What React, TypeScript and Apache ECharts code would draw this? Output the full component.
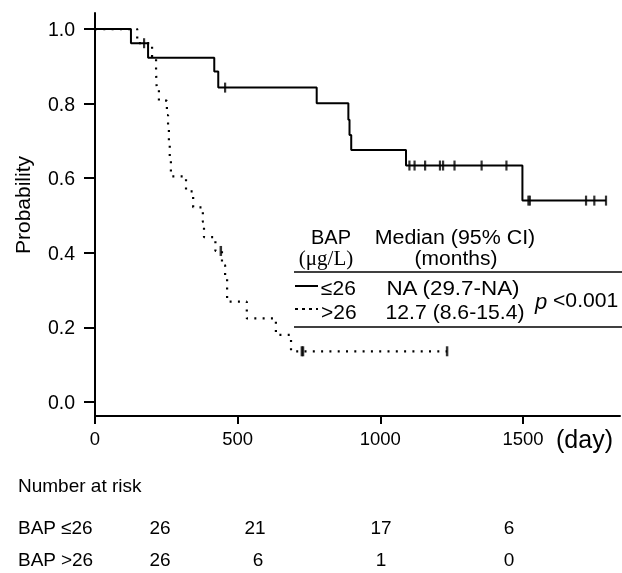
import React, { useEffect, useRef } from "react";
import * as echarts from "echarts";

// ---- data ----
const lowTimes = [0, 126, 186, 418, 432, 777, 888, 892, 898, 1090, 1498, 1791];
const lowSurv = [1.0, 0.962, 0.923, 0.886, 0.843, 0.801, 0.757, 0.716, 0.676, 0.634, 0.54, 0.54];
const lowCensor = [172, 456, 1102, 1120, 1157, 1209, 1220, 1260, 1355, 1442, 1519, 1524, 1721, 1750, 1791];

const highTimes = [0, 148, 200, 214, 216, 224, 252, 256, 259, 262, 266, 319, 344, 378, 382, 422, 445, 456, 463, 532, 634, 687, 1234];
const highSurv = [1.0, 0.962, 0.923, 0.885, 0.846, 0.808, 0.769, 0.731, 0.692, 0.654, 0.605, 0.565, 0.522, 0.483, 0.442, 0.405, 0.367, 0.33, 0.269, 0.224, 0.18, 0.136, 0.136];
const highCensor = [441, 725, 729, 1234];

const xTicks = [0, 500, 1000, 1500];
const yTicks = [0, 0.2, 0.4, 0.6, 0.8, 1.0];

const riskGroups = ["BAP \u226426", "BAP >26"];
const riskLow = [26, 21, 17, 6];
const riskHigh = [26, 6, 1, 0];

const legendHeader = ["BAP", "Median (95% CI)"];
const legendUnits = ["(\u03bcg/L)", "(months)"];
const legendGroups = ["\u226426", ">26"];
const legendMedians = ["NA (29.7-NA)", "12.7 (8.6-15.4)"];
const pValue = "<0.001";

const SANS = '"Liberation Sans", Arial, Helvetica, sans-serif';
const SERIF = '"Liberation Serif", "Times New Roman", serif';

function survAt(times: number[], surv: number[], t: number) {
  let s = surv[0];
  for (let i = 0; i < times.length; i++) if (times[i] <= t) s = surv[i];
  return s;
}

export default function App() {
  const ref = useRef<HTMLDivElement>(null);
  useEffect(() => {
    if (!ref.current) return;
    const chart = echarts.init(ref.current, null, { renderer: "svg" });
    const txt = (text: string, x: number, y: number, opts: any = {}) => ({
      type: "text",
      x,
      y,
      scaleX: opts.scaleX ?? 1,
      style: {
        text,
        fill: "#000",
        fontSize: opts.fontSize ?? 18,
        fontFamily: opts.fontFamily ?? SANS,
        fontStyle: opts.fontStyle ?? "normal",
        align: opts.align ?? "left",
        verticalAlign: "middle",
      },
      rotation: opts.rotation ?? 0,
    });
    const colX = [160, 255, 381, 509];
    const LF = 20;
    const graphics: any[] = [
      txt("Probability", 22, 205, { fontSize: 21, align: "center", rotation: Math.PI / 2 }),
      txt("(day)", 556, 439, { fontSize: 25 }),
      txt("Number at risk", 18, 485, { fontSize: 19 }),
      txt(riskGroups[0], 18, 527, { fontSize: 19 }),
      txt(riskGroups[1], 18, 559, { fontSize: 19 }),
      ...riskLow.map((v, i) => txt(String(v), colX[i], 527, { fontSize: 19, align: "center" })),
      ...riskHigh.map((v, i) => txt(String(v), colX[i] + (i === 1 ? 3 : 0), 559, { fontSize: 19, align: "center" })),
      txt(legendHeader[0], 331, 237, { fontSize: LF, align: "center" }),
      txt(legendHeader[1], 455, 237, { fontSize: LF, scaleX: 1.07, align: "center" }),
      txt(legendUnits[0], 326, 258, { fontSize: 21, align: "center", fontFamily: SERIF }),
      txt(legendUnits[1], 456, 258, { fontSize: LF, scaleX: 1.05, align: "center" }),
      txt(legendGroups[0], 321, 288, { fontSize: LF, scaleX: 1.05 }),
      txt(legendGroups[1], 321, 312, { fontSize: LF, scaleX: 1.05 }),
      txt(legendMedians[0], 453, 288, { fontSize: LF, scaleX: 1.12, align: "center" }),
      txt(legendMedians[1], 455, 312, { fontSize: LF, scaleX: 1.06, align: "center" }),
      txt("p", 535, 301, { fontSize: 22, fontStyle: "italic" }),
      txt(pValue, 553, 300, { fontSize: LF, scaleX: 1.06 }),
      { type: "line", shape: { x1: 294, y1: 272, x2: 622, y2: 272 }, style: { stroke: "#000", lineWidth: 1.5 } },
      { type: "line", shape: { x1: 294, y1: 327, x2: 622, y2: 327 }, style: { stroke: "#000", lineWidth: 1.5 } },
      { type: "line", shape: { x1: 295, y1: 286, x2: 318, y2: 286 }, style: { stroke: "#000", lineWidth: 2 } },
      { type: "line", shape: { x1: 295, y1: 309, x2: 318, y2: 309 }, style: { stroke: "#000", lineWidth: 2, lineDash: [3, 4] } },
    ];
    chart.setOption({
      animation: false,
      grid: { left: 95, top: 13, right: 2, bottom: 157, containLabel: false },
      xAxis: {
        type: "value",
        min: 0,
        max: 1840,
        splitLine: { show: false },
        axisLine: { onZero: false, lineStyle: { color: "#000", width: 2 } },
        axisTick: { customValues: xTicks, length: 8, lineStyle: { color: "#000", width: 2 } },
        axisLabel: {
          customValues: xTicks,
          color: "#000",
          fontSize: 18.5,
          fontFamily: SANS,
          margin: 13,
          formatter: (v: number) => String(v),
        },
      },
      yAxis: {
        type: "value",
        min: -0.0375,
        max: 1.043,
        splitLine: { show: false },
        axisLine: { show: true, onZero: false, lineStyle: { color: "#000", width: 2 } },
        axisTick: { show: true, customValues: yTicks, length: 11, lineStyle: { color: "#000", width: 2 } },
        axisLabel: {
          customValues: yTicks,
          color: "#000",
          fontSize: 19.5,
          fontFamily: SANS,
          margin: 20,
          formatter: (v: number) => v.toFixed(1),
        },
      },
      series: [
        {
          type: "line",
          step: "end",
          symbol: "none",
          data: lowTimes.map((t, i) => [t, lowSurv[i]]),
          lineStyle: { color: "#000", width: 2 },
        },
        {
          type: "line",
          step: "end",
          symbol: "none",
          data: highTimes.map((t, i) => [t, highSurv[i]]),
          lineStyle: { color: "#000", width: 2.2, type: [2, 6.3] },
        },
        {
          type: "scatter",
          symbol: "rect",
          symbolSize: [2.2, 10],
          itemStyle: { color: "#000" },
          data: lowCensor.map((t) => [t, survAt(lowTimes, lowSurv, t)]),
        },
        {
          type: "scatter",
          symbol: "rect",
          symbolSize: [2.5, 10],
          itemStyle: { color: "#000" },
          data: highCensor.map((t) => [t, survAt(highTimes, highSurv, t)]),
        },
      ],
      graphic: graphics,
    });
    return () => chart.dispose();
  }, []);
  return <div ref={ref} style={{ position: "fixed", left: 0, top: 0, width: 622, height: 573 }} />;
}
